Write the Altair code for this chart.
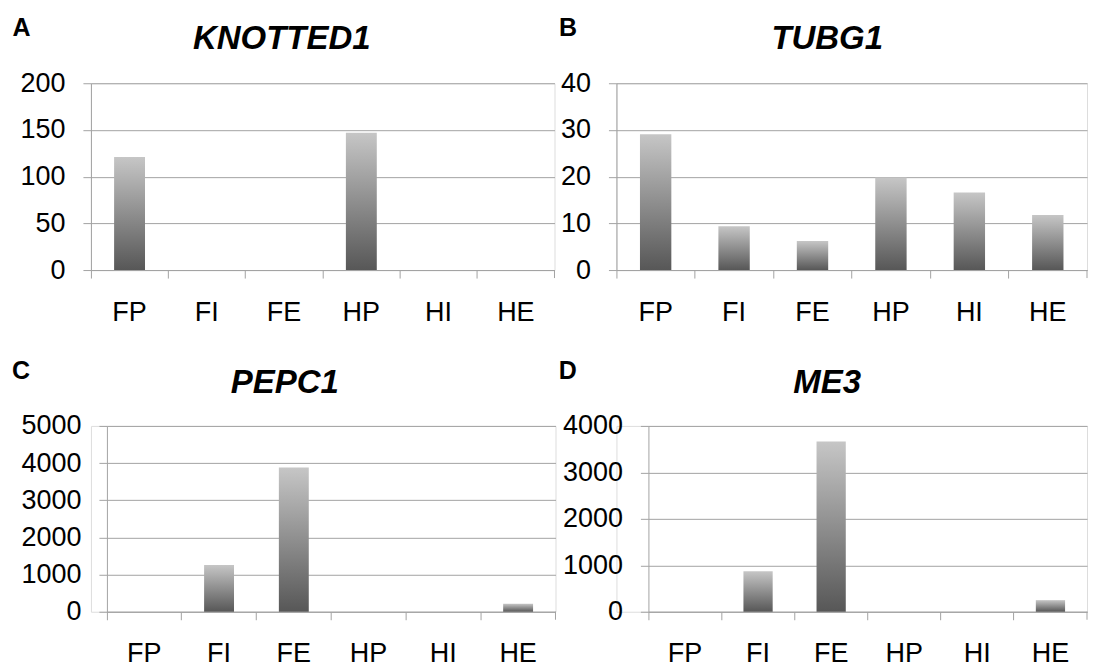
import altair as alt
import pandas as pd

# ---- data ----
categories = ["FP", "FI", "FE", "HP", "HI", "HE"]
knotted1 = [121, 0, 0, 147, 0, 0]
tubg1 = [29.1, 9.4, 6.2, 19.8, 16.6, 11.8]
pepc1 = [0, 1260, 3880, 0, 0, 215]
me3 = [0, 870, 3665, 0, 0, 250]

panel_letters = ["A", "B", "C", "D"]
gene_names = ["KNOTTED1", "TUBG1", "PEPC1", "ME3"]
y_max = [200, 40, 5000, 4000]
y_step = [50, 10, 1000, 1000]

FONT = "Liberation Sans"
GRAY = "#a3a3a3"
GRADIENT = {
    "gradient": "linear",
    "x1": 0, "y1": 0, "x2": 0, "y2": 1,
    "stops": [
        {"offset": 0, "color": "#c6c6c6"},
        {"offset": 1, "color": "#575757"},
    ],
}


def panel(i, values, x0, pw, H, letter_xy, title_xy):
    """x0: left inset of the plot inside the cell, pw: plot width."""
    W = x0 + pw
    df = pd.DataFrame({"cat": categories, "val": values})
    ymax, ystep = y_max[i], y_step[i]
    bars = alt.Chart(df).mark_bar(color=GRADIENT, width={"band": 0.4}).encode(
        x=alt.X(
            "cat:N",
            sort=categories,
            scale=alt.Scale(range=[x0, W], paddingInner=0, paddingOuter=0),
            axis=alt.Axis(
                title=None, labelAngle=0, bandPosition=0, grid=False,
                ticks=True, tickSize=8, tickColor=GRAY, tickWidth=1,
                domainColor=GRAY, domainWidth=1,
                labelFont=FONT, labelFontSize=27, labelColor="black",
                labelPadding=21,
            ),
        ),
        y=alt.Y(
            "val:Q",
            scale=alt.Scale(domain=[0, ymax], nice=False),
            axis=alt.Axis(
                title=None, values=list(range(0, ymax + 1, ystep)), format="d",
                offset=-x0,
                grid=True, gridColor=GRAY, gridWidth=1,
                ticks=True, tickSize=8, tickColor=GRAY, tickWidth=1,
                domainColor=GRAY, domainWidth=1,
                labelFont=FONT, labelFontSize=27, labelColor="black",
                labelPadding=18,
            ),
        ),
    )
    end_tick = alt.Chart(pd.DataFrame({"k": [0]})).mark_rule(
        color=GRAY, strokeWidth=1
    ).encode(x=alt.value(W), y=alt.value(H), y2=alt.value(H + 8))
    letter = alt.Chart(pd.DataFrame({"t": [panel_letters[i]]})).mark_text(
        align="left", baseline="alphabetic", font=FONT, fontSize=25,
        fontWeight="bold", color="black",
    ).encode(text="t:N", x=alt.value(letter_xy[0]), y=alt.value(letter_xy[1]))
    title = alt.Chart(pd.DataFrame({"t": [gene_names[i]]})).mark_text(
        align="center", baseline="alphabetic", font=FONT, fontSize=33,
        fontWeight="bold", fontStyle="italic", color="black",
    ).encode(text="t:N", x=alt.value(title_xy[0]), y=alt.value(title_xy[1]))
    return alt.layer(bars, end_tick, letter, title).properties(width=W, height=H)


pA = panel(0, knotted1, 0, 464, 187, (-78.5, -47.3), (191, -34.6))
pB = panel(1, tubg1, 0, 471, 187, (-57.5, -47.3), (211, -34))
pC = panel(2, pepc1, 16, 449, 186, (-79, -46.7), (194, -33.4))
pD = panel(3, me3, 32, 439, 186, (-57.7, -46.7), (211, -33.4))

chart = alt.concat(
    pA, pB, pC, pD, columns=2, bounds="flush",
    spacing={"row": 156, "column": 61},
).properties(
    padding={"left": 3, "top": 7, "right": 0, "bottom": 0}
).configure_view(strokeWidth=0).configure(background="white")

chart.save("out.html", embed_options={"renderer": "svg", "actions": False})
